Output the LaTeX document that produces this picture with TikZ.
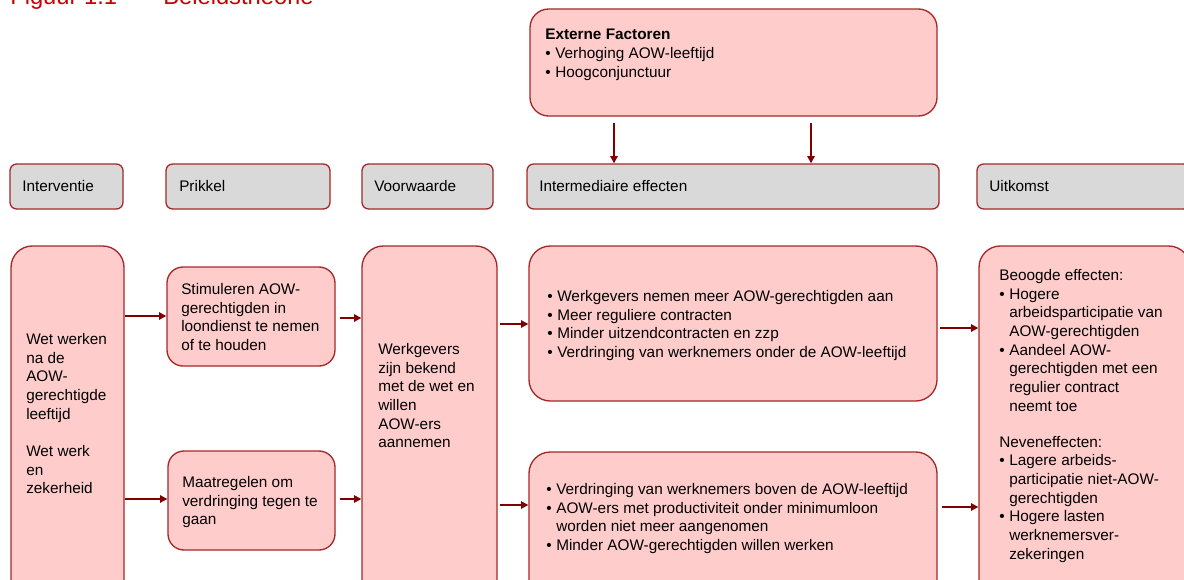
\documentclass[tikz,border=0pt]{standalone}
\usepackage{fontspec}
\setmainfont{Liberation Sans}
\usetikzlibrary{arrows.meta,fit}
\definecolor{pinkfill}{RGB}{255,204,204}
\definecolor{boxborder}{RGB}{165,40,40}
\definecolor{arrowred}{RGB}{128,0,0}
\definecolor{headgray}{RGB}{217,217,217}
\definecolor{titlered}{RGB}{204,0,0}
\newcommand{\bul}{\makebox[7.5pt][l]{\textbullet}}
\newcommand{\ind}{\hspace*{7.5pt}}
\tikzset{
  pinkbox/.style={draw=boxborder, line width=1pt, fill=pinkfill, rounded corners=12pt, inner sep=0pt},
  headbox/.style={draw=boxborder, line width=1pt, fill=headgray, rounded corners=5pt, inner sep=0pt},
  txt/.style={inner sep=0pt, align=left, anchor=base west, font=\fontsize{11.5}{14}\selectfont},
  mtxt/.style={txt, anchor=north west, execute at begin node={\strut}},
  arr/.style={draw=arrowred, line width=1.5pt, -{Triangle[length=5.5pt,width=5.5pt]}},
}
\begin{document}
\begin{tikzpicture}[x=0.75pt,y=-0.75pt]
\useasboundingbox (0,0) rectangle (1184,579);
\clip (0,0) rectangle (1184,579);
\fill[white] (0,0) rectangle (1184,579);
% title
\node[anchor=base west, inner sep=0pt, text=titlered, font=\fontsize{17.8}{20}\selectfont] (title1) at (10,4) {Figuur 1.1};
\node[anchor=base west, inner sep=0pt, text=titlered, font=\fontsize{17.8}{20}\selectfont] (title2) at (163,4) {Beleidstheorie};
% external factors
\node[pinkbox, rounded corners=14pt, fit={(530,9) (937,116)}] (ext) {};
\node[mtxt] (extt) at (545,29) {\textbf{Externe Factoren}\\\bul Verhoging AOW-leeftijd\\\bul Hoogconjunctuur};
% header row
\node[headbox, fit={(10,164) (123,209)}] (hint) {};
\node[headbox, fit={(166,164) (330,209)}] (hpri) {};
\node[headbox, fit={(362,164) (493,209)}] (hvoo) {};
\node[headbox, fit={(527,164) (939,209)}] (hime) {};
\node[headbox, fit={(977,164) (1190,209)}] (huit) {};
\node[txt] (thint) at (22,191) {Interventie};
\node[txt] (thpri) at (179,191) {Prikkel};
\node[txt] (thvoo) at (374,191) {Voorwaarde};
\node[txt] (thime) at (539,191) {Intermediaire effecten};
\node[txt] (thuit) at (989,191) {Uitkomst};
% main boxes
\node[pinkbox, rounded corners=16pt, fit={(11,246) (124,620)}] (interv) {};
\node[pinkbox, fit={(167,267) (335,366)}] (stim) {};
\node[pinkbox, fit={(168,451) (335,550)}] (maat) {};
\node[pinkbox, rounded corners=16pt, fit={(362,246) (497,620)}] (werk) {};
\node[pinkbox, rounded corners=16pt, fit={(529,246) (937,401)}] (imtop) {};
\node[pinkbox, rounded corners=16pt, fit={(529,452) (937,620)}] (imbot) {};
\node[pinkbox, rounded corners=16pt, fit={(979,246) (1190,620)}] (uit) {};
% texts
\node[mtxt] (tinterv) at (26,333) {Wet werken\\na de\\AOW-\\gerechtigde\\leeftijd\\[14pt]Wet werk\\en\\zekerheid};
\node[mtxt] (tstim) at (181,283) {Stimuleren AOW-\\gerechtigden in\\loondienst te nemen\\of te houden};
\node[mtxt] (tmaat) at (182,476) {Maatregelen om\\verdringing tegen te\\gaan};
\node[mtxt] (twerk) at (378,343) {Werkgevers\\zijn bekend\\met de wet en\\willen\\AOW-ers\\aannemen};
\node[mtxt] (timtop) at (547,290) {\bul Werkgevers nemen meer AOW-gerechtigden aan\\\bul Meer reguliere contracten\\\bul Minder uitzendcontracten en zzp\\\bul Verdringing van werknemers onder de AOW-leeftijd};
\node[mtxt] (timbot) at (546,483) {\bul Verdringing van werknemers boven de AOW-leeftijd\\\bul AOW-ers met productiviteit onder minimumloon\\\ind worden niet meer aangenomen\\\bul Minder AOW-gerechtigden willen werken};
\node[mtxt] (tuit) at (999,269) {Beoogde effecten:\\\bul Hogere\\\ind arbeidsparticipatie van\\\ind AOW-gerechtigden\\\bul Aandeel AOW-\\\ind gerechtigden met een\\\ind regulier contract\\\ind neemt toe\\[13pt]Neveneffecten:\\\bul Lagere arbeids-\\\ind participatie niet-AOW-\\\ind gerechtigden\\\bul Hogere lasten\\\ind werknemersver-\\\ind zekeringen};
% arrows
\draw[arr, shorten <=5pt] (ext.south -| 614,0) -- (hime.north -| 614,0);
\draw[arr, shorten <=5pt] (ext.south -| 811,0) -- (hime.north -| 811,0);
\draw[arr] (interv.east |- 0,316) -- (stim.west |- 0,316);
\draw[arr] (interv.east |- 0,499) -- (maat.west |- 0,499);
\draw[arr, shorten <=3pt] (stim.east |- 0,318) -- (werk.west |- 0,318);
\draw[arr, shorten <=3pt] (maat.east |- 0,499) -- (werk.west |- 0,499);
\draw[arr, shorten <=1.5pt] (werk.east |- 0,324) -- (imtop.west |- 0,324);
\draw[arr, shorten <=1.5pt] (werk.east |- 0,505) -- (imbot.west |- 0,505);
\draw[arr, shorten <=2pt] (imtop.east |- 0,328) -- (uit.west |- 0,328);
\draw[arr, shorten <=3pt] (imbot.east |- 0,507) -- (uit.west |- 0,507);
\end{tikzpicture}
\end{document}
